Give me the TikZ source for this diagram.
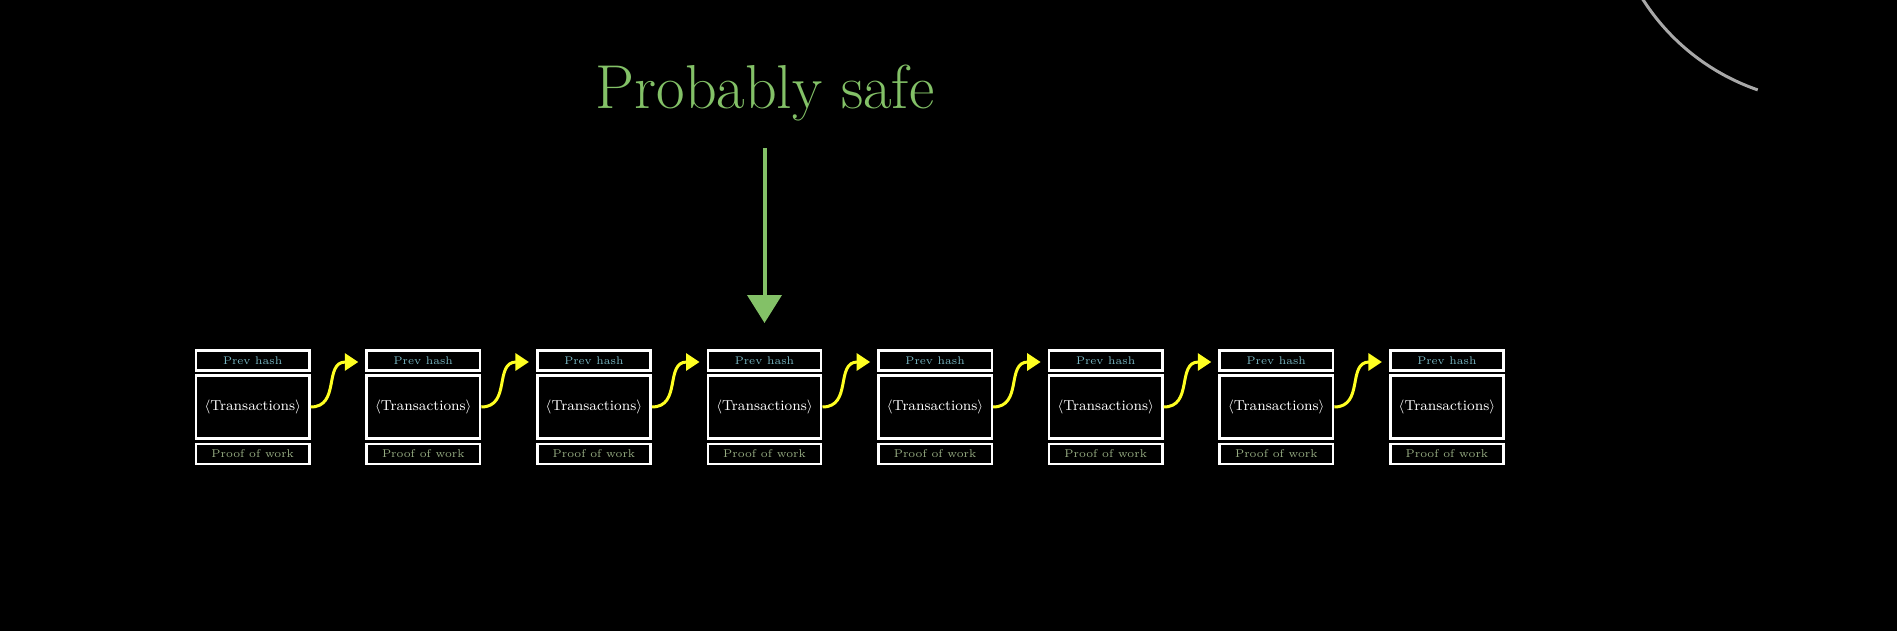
\documentclass[tikz,border=0pt]{standalone}
\usetikzlibrary{arrows.meta}
\definecolor{mgreen}{HTML}{83C167}
\definecolor{hashblue}{HTML}{7AB8C4}
\definecolor{powgreen}{HTML}{96AC82}
\definecolor{chainyellow}{HTML}{FFFF22}
\definecolor{arcgray}{HTML}{A8A8A8}
\begin{document}
\begin{tikzpicture}[x=0.02cm,y=-0.02cm,
  cell/.style={draw=white, line width=0.052cm, minimum width=2.268cm, inner sep=0pt},
  hashcell/.style={cell, minimum height=0.4cm, text=hashblue, font=\fontsize{6.3}{7}\selectfont},
  txcell/.style={cell, minimum height=1.26cm, text=white, font=\fontsize{8.2}{10}\selectfont},
  powcell/.style={cell, minimum height=0.4cm, text=powgreen, font=\fontsize{6.4}{7}\selectfont},
  chain/.style={draw=chainyellow, line width=0.06cm, -{Triangle[length=0.27cm,width=0.34cm]}},
  safearrow/.style={draw=mgreen, line width=0.08cm, -{Triangle[length=0.56cm,width=0.68cm]}},
  safelabel/.style={text=mgreen, font=\fontsize{35.3}{42}\selectfont, inner sep=0pt, anchor=base}
]
\fill[black] (0,0) rectangle (1897,631);
\useasboundingbox (0,0) rectangle (1897,631);
% gray arc at top right
\draw[arcgray, line width=0.06cm] plot[domain=109:150, samples=60] ({1830+222*cos(\x)}, {-120+222*sin(\x)});
% blocks
\foreach \i in {1,...,8} {
  \pgfmathsetmacro\cx{252.7+(\i-1)*170.6}
  \node[hashcell] (h\i) at (\cx,360.5) {Prev hash};
  \node[txcell] (t\i) at (\cx,407) {$\langle$Transactions$\rangle$};
  \node[powcell] (p\i) at (\cx,454) {Proof of work};
}
% chain arrows
\foreach \i [evaluate=\i as \j using int(\i+1)] in {1,...,7} {
  \draw[chain] (t\i.east) .. controls +(0.6cm,0) and +(-0.7cm,0) .. ([xshift=-0.14cm,yshift=-0.03cm]h\j.west);
}
% label and arrow
\node[safelabel] (safe) at (765,109) {Probably safe};
\coordinate (gstart) at ([yshift=4.02cm]h4.north);
\draw[safearrow] (gstart) -- ([yshift=0.524cm]h4.north);
\end{tikzpicture}
\end{document}
